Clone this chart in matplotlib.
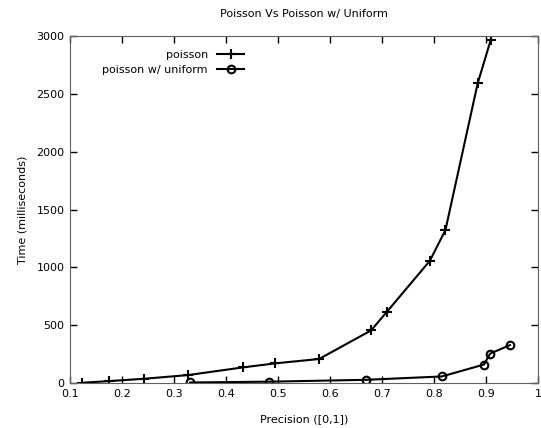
import matplotlib.pyplot as plt

poisson_x = [0.124, 0.175, 0.242, 0.327, 0.432, 0.494, 0.579, 0.679, 0.709, 0.792, 0.822, 0.884, 0.909]
poisson_y = [3, 17, 37, 69, 135, 170, 208, 455, 614, 1057, 1323, 2591, 2965]
uniform_x = [0.331, 0.483, 0.669, 0.815, 0.896, 0.908, 0.946]
uniform_y = [5, 12, 28, 57, 160, 255, 328]

plt.rcParams['font.family'] = 'DejaVu Sans'
plt.rcParams['font.size'] = 8

fig = plt.figure(figsize=(5.41, 4.28), dpi=100)
ax = fig.add_axes([0.1294, 0.105, 0.8651, 0.811])

ax.plot(poisson_x, poisson_y, color='black', lw=1.5, marker='+', ms=7.5, mew=1.5,
        label='poisson')
ax.plot(uniform_x, uniform_y, color='black', lw=1.5, marker='o', ms=5.5, mew=1.5,
        mfc='none', label='poisson w/ uniform')

ax.set_xlim(0.1, 1.0)
ax.set_ylim(0, 3000)
ax.set_xticks([0.1, 0.2, 0.3, 0.4, 0.5, 0.6, 0.7, 0.8, 0.9, 1.0])
ax.set_xticklabels(['0.1', '0.2', '0.3', '0.4', '0.5', '0.6', '0.7', '0.8', '0.9', '1'])
ax.set_yticks(range(0, 3001, 500))
ax.tick_params(direction='in', top=True, right=True, length=5, width=1, pad=4)
for s in ax.spines.values():
    s.set_color('#606060')

ax.set_title('Poisson Vs Poisson w/ Uniform', fontsize=8, pad=14)
ax.set_xlabel('Precision ([0,1])', labelpad=11)
ax.set_ylabel('Time (milliseconds)', labelpad=6)

ax.legend(loc='upper left', bbox_to_anchor=(0.05, 0.985), frameon=False,
          markerfirst=False, handlelength=2.5, borderpad=0.3, labelspacing=0.45,
          fontsize=8)

fig.savefig('out.png', dpi=100)
